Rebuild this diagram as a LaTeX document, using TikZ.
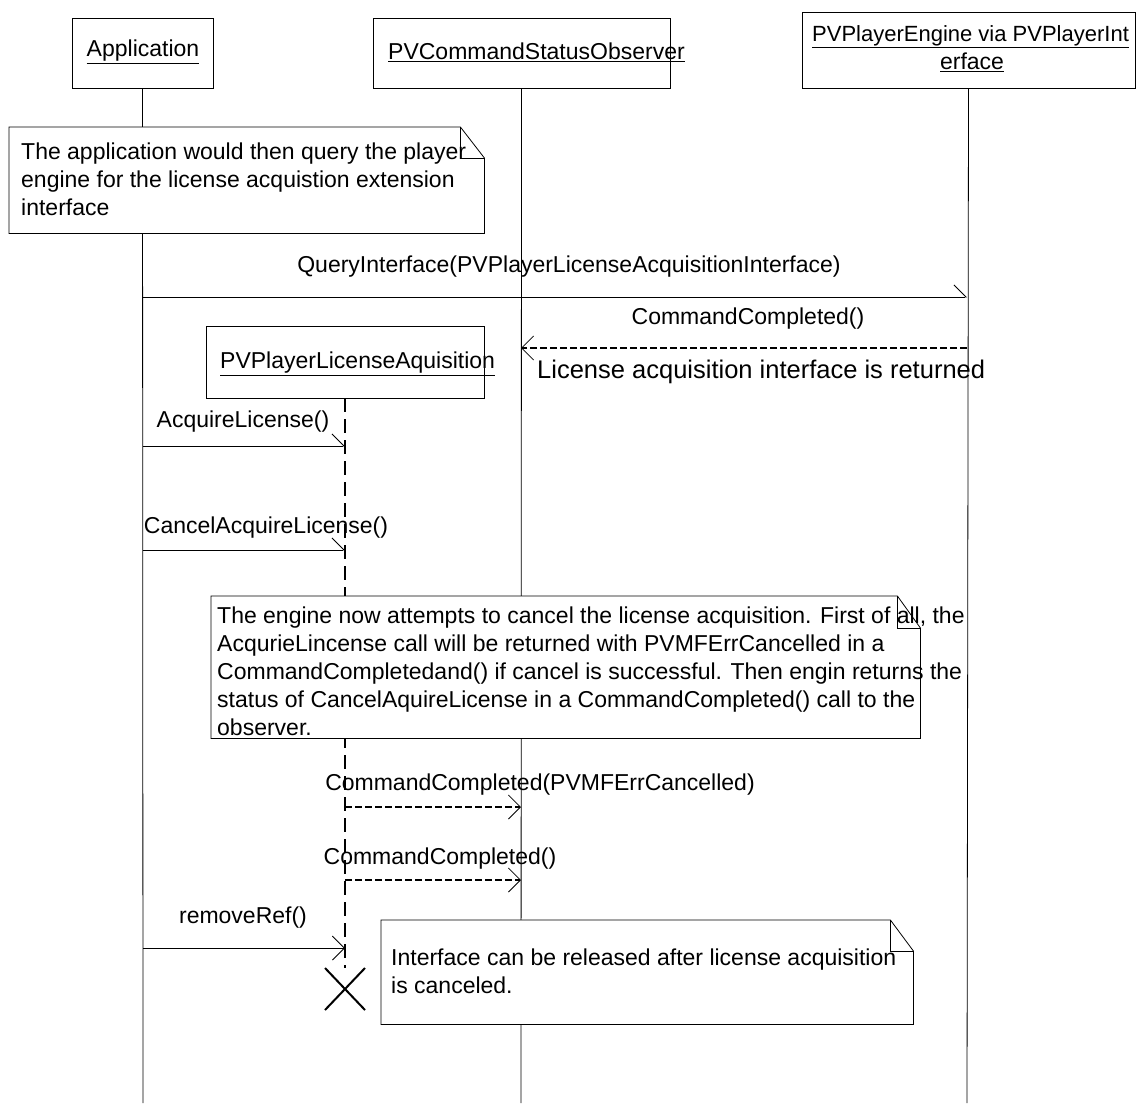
\documentclass[tikz,border=0pt]{standalone}
\usepackage{fontspec}
\setmainfont{Liberation Sans}
\usetikzlibrary{arrows.meta}
\begin{document}
\begin{tikzpicture}[x=1pt,y=-1pt,
  lbl/.style={font=\fontsize{23}{28}\selectfont, inner sep=0pt},
  hdr/.style={draw, line width=0.9pt, fill=white, inner sep=0pt},
  life/.style={line width=0.8pt},
  async/.style={line width=0.9pt, -{Straight Barb[left,length=12pt,width=24pt]}},
  syncm/.style={line width=0.9pt, -{Straight Barb[length=12pt,width=24pt]}},
  ret/.style={line width=1.6pt, dash pattern=on 7pt off 3pt, -{Straight Barb[length=12pt,width=24pt,line width=0.8pt]}},
  notebg/.style={fill=white, inner sep=0pt, anchor=north west},
  noteline/.style={line width=0.8pt, line join=miter},
  notetext/.style={lbl, align=left, anchor=north west}
]
\useasboundingbox (0,0) rectangle (1139,1103);
\clip (0,0) rectangle (1139,1103);
\fill[white] (0,0) rectangle (1139,1103);

% lifeline ends
\coordinate (appEnd) at (143,1103);
\coordinate (obsEnd) at (521,1103);
\coordinate (engEnd) at (967,1103);
\coordinate (licEnd) at (345,968);
\coordinate (xk) at (345,989);

% header boxes
\node[hdr, minimum width=141pt, minimum height=70pt] (app) at (142.5,53) {};
\node[hdr, minimum width=297pt, minimum height=70pt] (obs) at (521.5,53) {};
\node[hdr, minimum width=333pt, minimum height=76pt] (eng) at (968.5,50) {};
\node[hdr, minimum width=278pt, minimum height=72pt] (lic) at (345,362) {};

% lifelines
\draw[life] (app.south) -- (appEnd);
\draw[life] (obs.south) -- (obsEnd);
\draw[life] (eng.south) -- (engEnd);
\draw[line width=1.6pt, dash pattern=on 14pt off 7pt] (lic.south) -- (licEnd);

% header texts
\node[lbl] (appT) at (143,52) {\underline{Application}};
\node[lbl, anchor=west] (obsT) at (388,52) {\underline{PVCommandStatusObserver}};
\node[lbl, anchor=west, font=\fontsize{22}{26}\selectfont] (engT1) at (812,37) {\underline{PVPlayerEngine via PVPlayerInt}};
\node[lbl] (engT2) at (972,62) {\underline{erface}};
\node[lbl, anchor=west] (licT) at (220,364) {\underline{PVPlayerLicenseAquisition}};

% note 1
\node[notebg, minimum width=475pt, minimum height=106pt] (n1) at (9,127) {};
\draw[noteline] (n1.north west) -- ([xshift=-24pt]n1.north east) -- ([yshift=-31pt]n1.north east) -- (n1.south east) -- (n1.south west) -- cycle;
\draw[noteline] ([xshift=-24pt]n1.north east) -- ([xshift=-24pt,yshift=-31pt]n1.north east) -- ([yshift=-31pt]n1.north east);
\node[notetext] (n1t) at (21,143) {The application would then query the player\\engine for the license acquistion extension\\interface};

% note 2
\node[notebg, minimum width=709pt, minimum height=142pt] (n2) at (211,596) {};
\draw[noteline] (n2.north west) -- ([xshift=-23pt]n2.north east) -- ([yshift=-32pt]n2.north east) -- (n2.south east) -- (n2.south west) -- cycle;
\draw[noteline] ([xshift=-23pt]n2.north east) -- ([xshift=-23pt,yshift=-32pt]n2.north east) -- ([yshift=-32pt]n2.north east);
\node[notetext] (n2t) at (217,607) {The engine now attempts to cancel the license acquisition. First of all, the\\AcqurieLincense call will be returned with PVMFErrCancelled in a\\CommandCompletedand() if cancel is successful. Then engin returns the\\status of CancelAquireLicense in a CommandCompleted() call to the\\observer.};

% note 3
\node[notebg, minimum width=532pt, minimum height=104pt] (n3) at (381,920) {};
\draw[noteline] (n3.north west) -- ([xshift=-23pt]n3.north east) -- ([yshift=-31pt]n3.north east) -- (n3.south east) -- (n3.south west) -- cycle;
\draw[noteline] ([xshift=-23pt]n3.north east) -- ([xshift=-23pt,yshift=-31pt]n3.north east) -- ([yshift=-31pt]n3.north east);
\node[notetext] (n3t) at (391,949) {Interface can be released after license acquisition\\is canceled.};

% messages
\coordinate (q1) at (143,297); \coordinate (q2) at (967,297);
\draw[async] (q1) -- (q2);
\node[lbl] (qL) at (569,267) {QueryInterface(PVPlayerLicenseAcquisitionInterface)};

\coordinate (c1) at (967,348); \coordinate (c2) at (521,348);
\draw[ret] (c1) -- (c2);
\node[lbl] (cL) at (748,319) {CommandCompleted()};
\node[lbl, anchor=west, font=\fontsize{25.5}{30}\selectfont] (cL2) at (537,372) {License acquisition interface is returned};

\coordinate (a1) at (143,446); \coordinate (a2) at (345,446);
\draw[async] (a1) -- (a2);
\node[lbl] (aL) at (243,422) {AcquireLicense()};

\coordinate (k1) at (143,550); \coordinate (k2) at (345,550);
\draw[async] (k1) -- (k2);
\node[lbl] (kL) at (266,528) {CancelAcquireLicense()};

\coordinate (p1) at (345,807); \coordinate (p2) at (521,807);
\draw[ret] (p1) -- (p2);
\node[lbl] (pL) at (540,785) {CommandCompleted(PVMFErrCancelled)};

\coordinate (d1) at (345,880); \coordinate (d2) at (521,880);
\draw[ret] (d1) -- (d2);
\node[lbl] (dL) at (440,859) {CommandCompleted()};

\coordinate (r1) at (143,948); \coordinate (r2) at (345,948);
\draw[syncm] (r1) -- (r2);
\node[lbl] (rL) at (243,918) {removeRef()};

% destruction mark
\draw[line width=2pt] ([shift={(-20pt,21pt)}]xk) -- ([shift={(20pt,-21pt)}]xk);
\draw[line width=2pt] ([shift={(-20pt,-21pt)}]xk) -- ([shift={(20pt,21pt)}]xk);
\end{tikzpicture}
\end{document}
